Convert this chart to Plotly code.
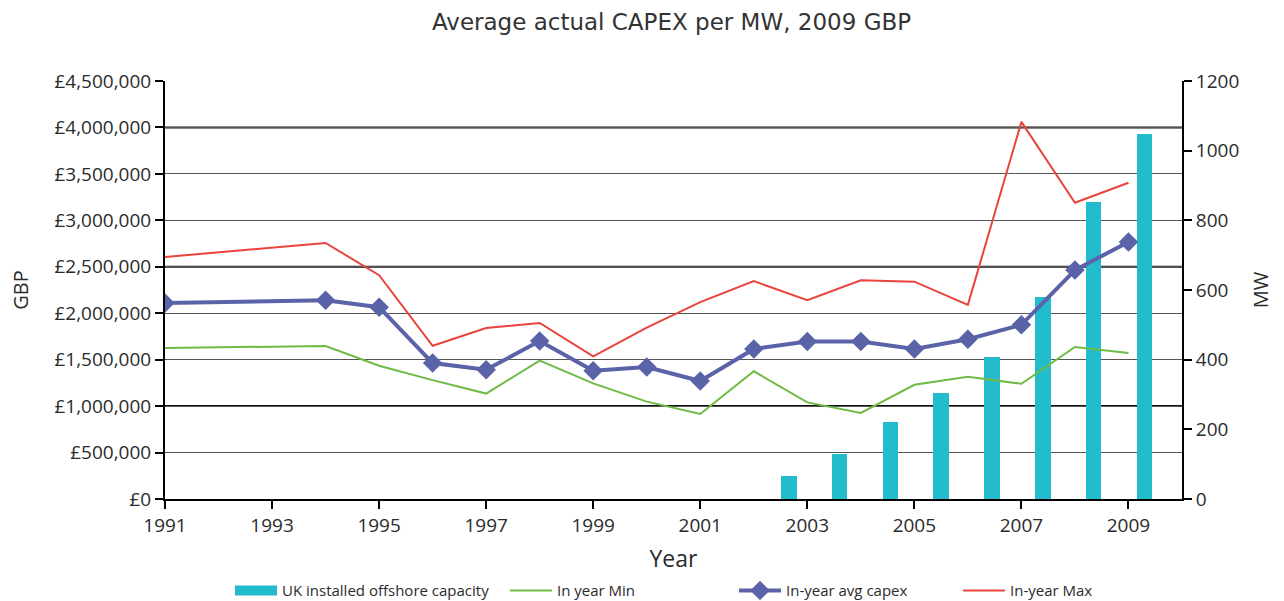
import plotly.graph_objects as go

# ---- data ----
line_years = [1991, 1994, 1995, 1996, 1997, 1998, 1999, 2000, 2001,
              2002, 2003, 2004, 2005, 2006, 2007, 2008, 2009]
avg_capex = [2110000, 2140000, 2065000, 1464000, 1392000, 1700000, 1380000, 1421000, 1270000,
             1615000, 1695000, 1695000, 1615000, 1720000, 1875000, 2465000, 2767000]
max_capex = [2605000, 2756000, 2410000, 1650000, 1840000, 1895000, 1535000, 1845000, 2120000,
             2345000, 2140000, 2355000, 2340000, 2090000, 4060000, 3190000, 3405000]
min_capex = [1626000, 1647000, 1435000, 1280000, 1135000, 1490000, 1245000, 1048000, 915000,
             1375000, 1040000, 926000, 1230000, 1315000, 1240000, 1636000, 1572000]

bar_years = [2002, 2003, 2004, 2005, 2006, 2007, 2008, 2009]
capacity_mw = [66, 129, 221, 304, 408, 580, 853, 1048]

x_ticks = [1991, 1993, 1995, 1997, 1999, 2001, 2003, 2005, 2007, 2009]

FONT = "Open Sans"
TXT = "#2b2b2b"
BAR_C = "#22bccc"
MIN_C = "#6dbb45"
AVG_C = "#5a62a8"
MAX_C = "#e8443c"

fig = go.Figure()

# bars on base subplot (x, y) -> drawn beneath lines
fig.add_trace(go.Bar(
    x=bar_years, y=capacity_mw, name="UK installed offshore capacity",
    marker=dict(color=BAR_C, line=dict(width=0)),
    width=0.31, xaxis="x", yaxis="y", showlegend=False,
))
# legend swatch for the bars (wide flat rectangle like the reference)
fig.add_trace(go.Scatter(
    x=[None], y=[None], name="UK installed offshore capacity", mode="lines",
    line=dict(color=BAR_C, width=10), xaxis="x", yaxis="y", legend="legend",
))

# lines on overlay subplot (x2, y2)
fig.add_trace(go.Scatter(
    x=line_years, y=min_capex, name="In year Min", mode="lines",
    line=dict(color=MIN_C, width=2), xaxis="x2", yaxis="y2", legend="legend2",
))
fig.add_trace(go.Scatter(
    x=line_years, y=avg_capex, name="In-year avg capex", mode="lines+markers",
    line=dict(color=AVG_C, width=4),
    marker=dict(symbol="diamond", size=15, color=AVG_C),
    xaxis="x2", yaxis="y2", legend="legend3",
))
fig.add_trace(go.Scatter(
    x=line_years, y=max_capex, name="In-year Max", mode="lines",
    line=dict(color=MAX_C, width=2), xaxis="x2", yaxis="y2", legend="legend4",
))

# darker gridlines as seen in the reference
for v in [1000000, 2500000, 4000000]:
    fig.add_shape(type="line", xref="x2 domain", yref="y2", x0=0, x1=1, y0=v, y1=v,
                  line=dict(color="#111111", width=2), layer="below")

W, H = 1284, 601


def leg(x_px):
    return dict(orientation="h", xref="container", yref="container",
                x=x_px / W, xanchor="left", y=0.017, yanchor="middle",
                font=dict(family=FONT, size=15, color=TXT),
                itemwidth=42, bgcolor="rgba(0,0,0,0)")


fig.update_layout(
    width=W, height=H,
    margin=dict(l=165, r=102, t=81, b=102, autoexpand=False),
    paper_bgcolor="white", plot_bgcolor="white",
    font=dict(family=FONT, color=TXT, size=18),
    title=dict(text="Average actual CAPEX per MW, 2009 GBP",
               x=0.523, xanchor="center", y=0.963, yanchor="middle",
               font=dict(family="Verdana, DejaVu Sans", size=23, color="#333333")),
    showlegend=True,
    legend=leg(230), legend2=leg(505), legend3=leg(734), legend4=leg(958),
    bargap=0,
    xaxis=dict(range=[1989.72, 2009.74], visible=False, fixedrange=True),
    yaxis=dict(range=[0, 1200], dtick=200, side="right", showgrid=False, zeroline=False,
               showline=True, linecolor="black", linewidth=2, automargin=False,
               ticks="outside", ticklen=8, tickcolor="black", tickwidth=1.5,
               tickfont=dict(size=19, color=TXT),
               title=dict(text="MW", standoff=16, font=dict(size=20, color=TXT))),
    xaxis2=dict(overlaying="x", anchor="y2", side="bottom", range=[1991, 2010],
                tickvals=x_ticks, ticktext=[str(t) for t in x_ticks],
                showgrid=False, zeroline=False, automargin=False,
                showline=True, linecolor="black", linewidth=2, mirror=False,
                ticks="outside", ticklen=8, tickcolor="black", tickwidth=1.5,
                tickfont=dict(size=19, color=TXT),
                title=dict(text="Year", standoff=18, font=dict(size=23, color=TXT))),
    yaxis2=dict(overlaying="y", anchor="x2", side="left", range=[0, 4500000],
                dtick=500000, tickprefix="£", tickformat=",.0f", automargin=False,
                showgrid=True, gridcolor="#555555", gridwidth=1, zeroline=False,
                showline=True, linecolor="black", linewidth=2,
                ticks="outside", ticklen=8, tickcolor="black", tickwidth=1.5,
                tickfont=dict(size=19, color=TXT),
                title=dict(text="GBP", standoff=20, font=dict(size=20, color=TXT))),
)

fig.write_html(
    "out.html",
    config={"displayModeBar": False},
    post_script="document.body.style.margin='0';document.body.style.overflow='hidden';",
)
